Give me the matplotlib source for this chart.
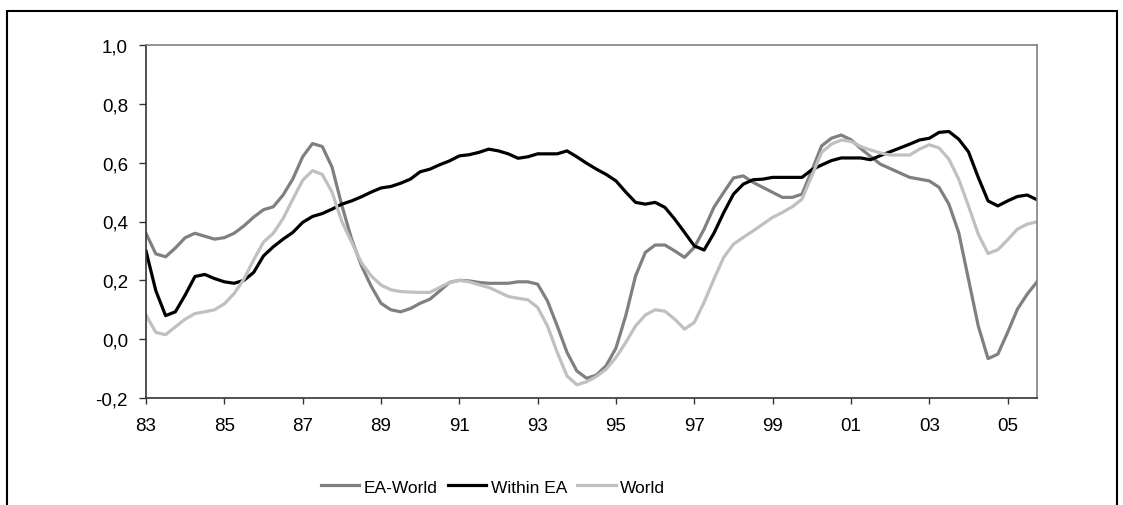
import matplotlib.pyplot as plt
from matplotlib.patches import Rectangle
from matplotlib.ticker import FuncFormatter

plt.rcParams['font.family'] = ['Liberation Sans', 'DejaVu Sans']

# quarterly, 1983Q1 .. 2005Q4
ea_world = [0.36, 0.29, 0.28, 0.31, 0.345, 0.36, 0.35, 0.34, 0.345, 0.36,
            0.385, 0.415, 0.44, 0.45, 0.49, 0.545, 0.62, 0.665, 0.655, 0.585,
            0.455, 0.34, 0.25, 0.18, 0.122, 0.10, 0.093, 0.104, 0.122, 0.136,
            0.164, 0.193, 0.20, 0.198, 0.193, 0.19, 0.19, 0.19, 0.195, 0.195,
            0.187, 0.13, 0.045, -0.045, -0.108, -0.133, -0.122, -0.09, -0.03, 0.08,
            0.215, 0.295, 0.32, 0.32, 0.30, 0.278, 0.312, 0.374, 0.448, 0.499,
            0.548, 0.555, 0.533, 0.516, 0.499, 0.482, 0.482, 0.493, 0.573, 0.657,
            0.683, 0.694, 0.678, 0.648, 0.621, 0.595, 0.58, 0.565, 0.55, 0.544,
            0.538, 0.516, 0.459, 0.363, 0.204, 0.045, -0.066, -0.051, 0.023, 0.102,
            0.153, 0.195]
within_ea = [0.30, 0.165, 0.08, 0.093, 0.15, 0.213, 0.22, 0.206, 0.195, 0.19,
             0.20, 0.227, 0.283, 0.314, 0.34, 0.363, 0.397, 0.417, 0.427, 0.442,
             0.459, 0.47, 0.484, 0.50, 0.514, 0.519, 0.53, 0.544, 0.569, 0.578,
             0.593, 0.606, 0.623, 0.627, 0.635, 0.646, 0.64, 0.63, 0.615, 0.62,
             0.63, 0.63, 0.63, 0.64, 0.62, 0.598, 0.578, 0.56, 0.538, 0.50,
             0.465, 0.459, 0.465, 0.448, 0.408, 0.363, 0.317, 0.303, 0.36, 0.43,
             0.493, 0.527, 0.542, 0.544, 0.55, 0.55, 0.55, 0.55, 0.576, 0.592,
             0.607, 0.616, 0.616, 0.616, 0.61, 0.624, 0.637, 0.65, 0.663, 0.677,
             0.683, 0.703, 0.706, 0.68, 0.637, 0.55, 0.47, 0.453, 0.47, 0.485,
             0.49, 0.474]
world = [0.082, 0.023, 0.015, 0.042, 0.068, 0.087, 0.093, 0.10, 0.12, 0.155,
         0.204, 0.27, 0.33, 0.36, 0.41, 0.476, 0.54, 0.573, 0.56, 0.50,
         0.40, 0.33, 0.26, 0.215, 0.184, 0.168, 0.162, 0.16, 0.159, 0.159,
         0.176, 0.193, 0.20, 0.195, 0.185, 0.176, 0.161, 0.145, 0.139, 0.134,
         0.108, 0.045, -0.045, -0.125, -0.155, -0.145, -0.127, -0.102, -0.062, -0.011,
         0.045, 0.082, 0.10, 0.095, 0.068, 0.034, 0.057, 0.125, 0.204, 0.278,
         0.323, 0.346, 0.368, 0.391, 0.414, 0.431, 0.45, 0.476, 0.555, 0.635,
         0.663, 0.677, 0.672, 0.655, 0.643, 0.633, 0.626, 0.626, 0.626, 0.646,
         0.661, 0.65, 0.612, 0.544, 0.453, 0.357, 0.291, 0.304, 0.338, 0.374,
         0.391, 0.399]
year_labels = ['83', '85', '87', '89', '91', '93', '95', '97', '99', '01', '03', '05']

x = list(range(len(within_ea)))

fig = plt.figure(figsize=(11.23, 5.06), dpi=100)
ax = fig.add_axes([146 / 1123, 1 - 399 / 506, 891 / 1123, 353 / 506])

ax.plot(x, ea_world, color='#808080', lw=2.3, label='EA-World')
ax.plot(x, within_ea, color='black', lw=2.3, label='Within EA')
ax.plot(x, world, color='#c0c0c0', lw=2.3, label='World')

ax.set_xlim(0, len(x) - 1)
ax.set_ylim(-0.2, 1.0)
ax.set_yticks([-0.2, 0.0, 0.2, 0.4, 0.6, 0.8, 1.0])
ax.yaxis.set_major_formatter(FuncFormatter(lambda v, p: f'{v:.1f}'.replace('.', ',')))
ax.set_xticks(range(0, len(x), 8))
ax.set_xticklabels(year_labels)
ax.tick_params(axis='both', labelsize=13.5, width=1, color='#333333')
ax.tick_params(axis='y', length=5, pad=8)
ax.tick_params(axis='x', length=4.5, pad=9)

for s in ['left', 'bottom']:
    ax.spines[s].set_color('#333333')
    ax.spines[s].set_linewidth(1.2)
for s in ['top', 'right']:
    ax.spines[s].set_color('#808080')
    ax.spines[s].set_linewidth(1.2)

fig.legend(loc='center', bbox_to_anchor=(493 / 1123, 1 - 488 / 506), ncol=3, frameon=False,
           fontsize=12.5, handlelength=2.2, columnspacing=0.6, handletextpad=0.25,
           borderpad=0.2)

fig.patches.append(Rectangle((7 / 1123, -0.1), 1110 / 1123, 1.1 - 12 / 506,
                             transform=fig.transFigure, fill=False, edgecolor='black',
                             lw=1.5, clip_on=False))

fig.savefig('out.png', dpi=100)
